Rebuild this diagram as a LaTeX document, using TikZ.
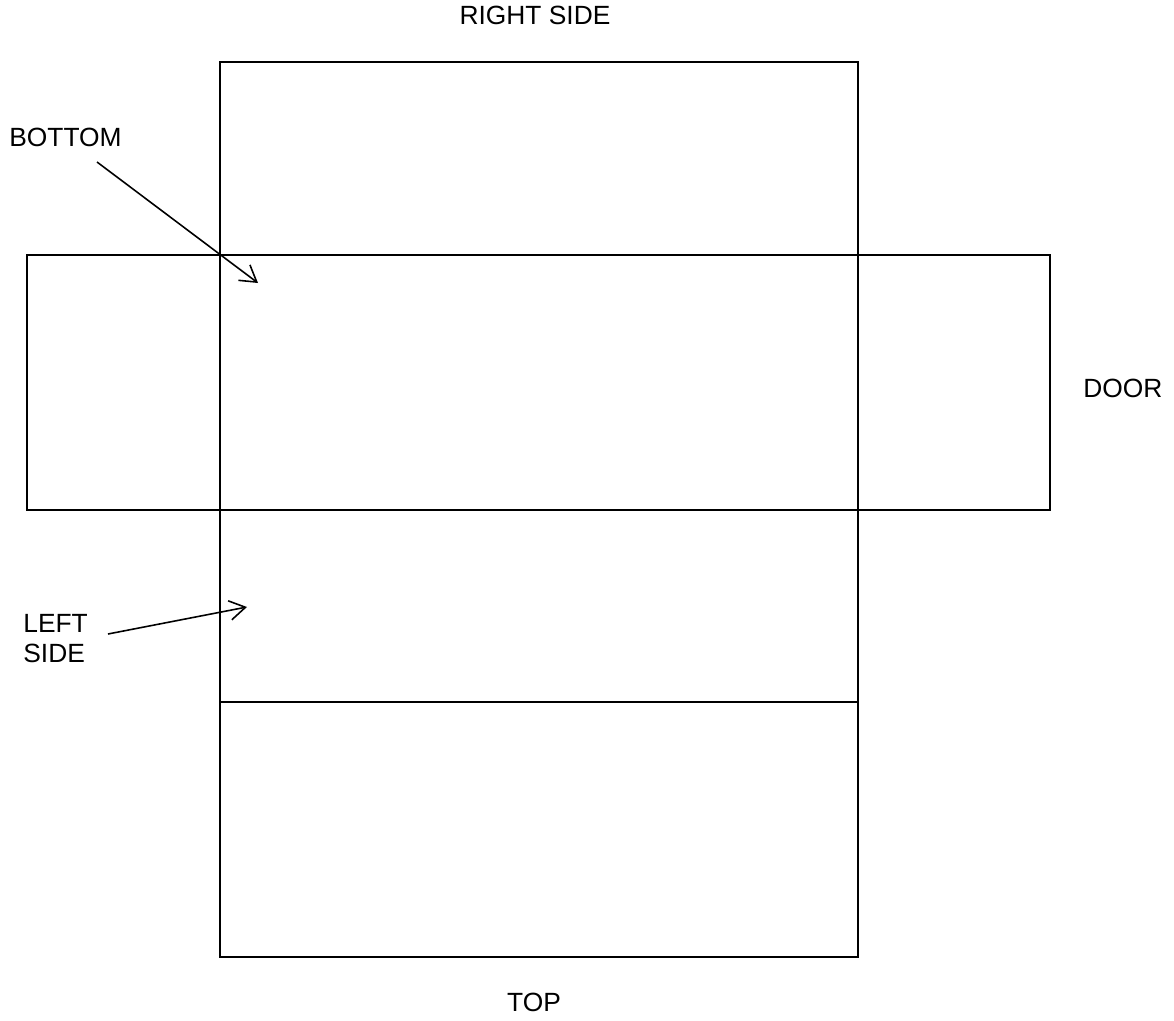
\documentclass[tikz,border=0pt]{standalone}
\usepackage{fontspec}
\setmainfont{Liberation Sans}
\usetikzlibrary{arrows.meta}

\begin{document}
\begin{tikzpicture}[x=0.02cm, y=-0.02cm,
    panel/.style={line width=1.3pt},
    lbl/.style={font=\fontsize{15}{17}\selectfont, inner sep=0pt},
    pointer/.style={line width=0.9pt, -{Straight Barb[length=9pt, width=11pt]}}]
      \useasboundingbox (0, 0) rectangle (1174, 1021);
      % panels of the net
      \draw[panel] (220, 62) rectangle (858, 255);
      \draw[panel] (220, 255) rectangle (858, 510);
      \draw[panel] (27, 255) rectangle (220, 510);
      \draw[panel] (858, 255) rectangle (1050, 510);
      \draw[panel] (220, 510) rectangle (858, 702);
      \draw[panel] (220, 702) rectangle (858, 957);
      % labels
      \node[lbl, anchor=base] (rightside) at (535, 25) {RIGHT SIDE};
      \node[lbl, anchor=base west] (bottom) at (9, 146) {BOTTOM};
      \node[lbl, anchor=base west] (door) at (1083, 397) {DOOR};
      \node[lbl, anchor=base west, align=left] (leftside) at (23, 662) {LEFT\\SIDE};
      \node[lbl, anchor=base] (top) at (534, 1011) {TOP};
      % arrows
      \coordinate (bottomtail) at (97, 162);
      \coordinate (bottomtip) at (258, 283);
      \coordinate (leftsidetail) at (108, 634);
      \coordinate (leftsidetip) at (247, 607);
      \draw[pointer] (bottomtail) -- (bottomtip);
      \draw[pointer] (leftsidetail) -- (leftsidetip);
    \end{tikzpicture}
\end{document}
